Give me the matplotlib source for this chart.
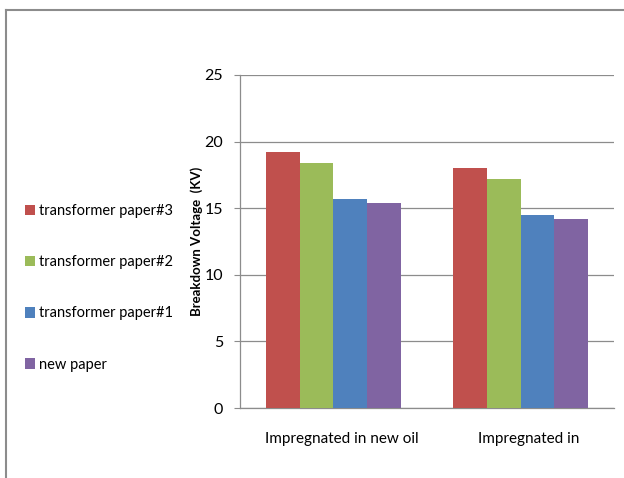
import numpy as np
import matplotlib
matplotlib.use('Agg')
from matplotlib import pyplot as plt
from matplotlib.lines import Line2D
import matplotlib.transforms as mtransforms

# data
categories = ['Impregnated in new oil', 'Impregnated in']
series_names = ['transformer paper#3', 'transformer paper#2', 'transformer paper#1', 'new paper']
paper3 = [19.2, 18.0]
paper2 = [18.4, 17.2]
paper1 = [15.7, 14.5]
new_paper = [15.4, 14.2]
yticks = [0, 5, 10, 15, 20, 25]

colors = ['#C0504D', '#9BBB59', '#4F81BD', '#8064A2']
plt.rcParams['font.family'] = ['Lato', 'DejaVu Sans']

fig = plt.figure(figsize=(6.24, 4.78), dpi=100)
ax = fig.add_axes([0.3846, 0.1464, 0.5994, 0.6967])

x = np.arange(len(categories))
bar_w = 0.18
all_series = [paper3, paper2, paper1, new_paper]
for i, (vals, name) in enumerate(zip(all_series, series_names)):
    offs = (i - 1.5) * bar_w
    ax.bar(x + offs, vals, width=bar_w, color=colors[i], label=name, zorder=3)

ax.set_xlim(-0.5, len(categories) - 0.5)
ax.set_ylim(0, 25)
ax.set_yticks(yticks)
ax.yaxis.grid(True, color='#8c8c8c', linewidth=0.9, zorder=0)
for s in ['top', 'right']:
    ax.spines[s].set_visible(False)
for s in ['left', 'bottom']:
    ax.spines[s].set_color('#8c8c8c')
    ax.spines[s].set_linewidth(0.9)
ax.tick_params(axis='y', length=4, color='#8c8c8c', labelsize=11.5, pad=8)
ax.tick_params(axis='x', length=0, labelsize=11, pad=17)
ax.set_xticks(x)
ax.set_xticklabels(categories)
# labels sit a bit right of category centres in the reference
offset = mtransforms.ScaledTranslation(0.08, 0, fig.dpi_scale_trans)
for lbl in ax.get_xticklabels():
    lbl.set_transform(lbl.get_transform() + offset)

ax.set_ylabel('Breakdown Voltage  (KV)', fontsize=9.5, fontweight='bold', labelpad=1)

handles, labels = ax.get_legend_handles_labels()
fig.legend(handles, labels, loc='center left', bbox_to_anchor=(0.03, 0.398),
           frameon=False, fontsize=10.5, handlelength=0.75, handleheight=0.75,
           handletextpad=0.25, labelspacing=2.55, borderaxespad=0)

# grey frame at top and left like the reference
fig.add_artist(Line2D([6 / 624, 6 / 624], [0, 1 - 10 / 478], transform=fig.transFigure, color='#8c8c8c', linewidth=1.5))
fig.add_artist(Line2D([6 / 624, 1], [1 - 10 / 478, 1 - 10 / 478], transform=fig.transFigure, color='#8c8c8c', linewidth=1.5))

plt.savefig('out.png', dpi=100)
